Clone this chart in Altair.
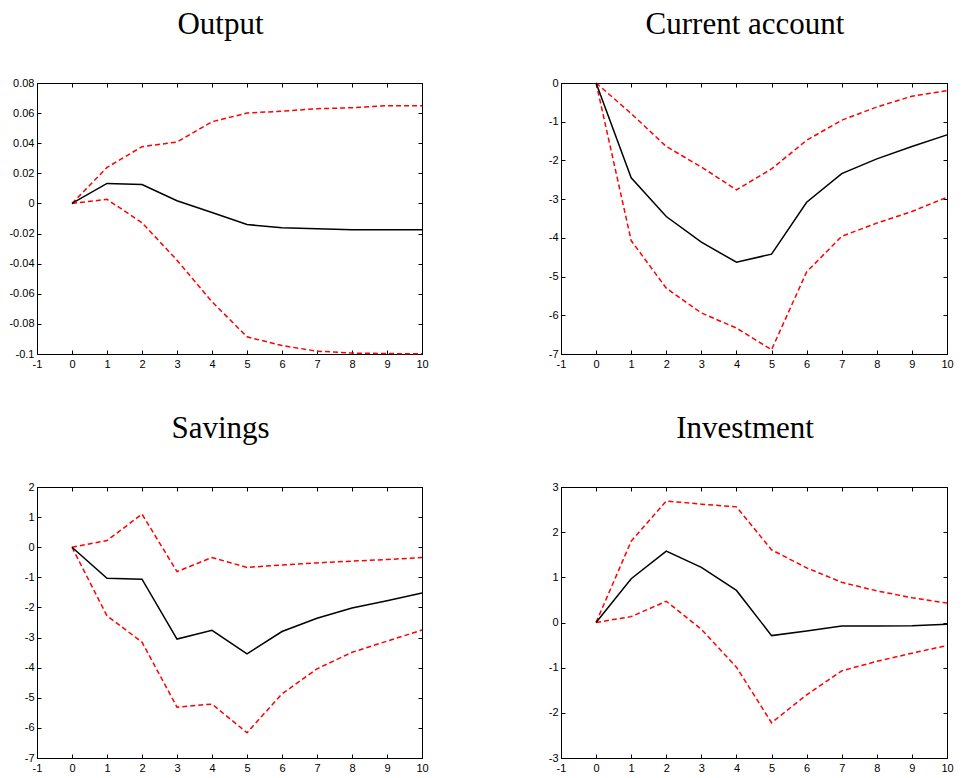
import altair as alt
import pandas as pd

horizon = list(range(11))
x_ticks = list(range(-1, 11))

output_mid = [0, 0.0133, 0.0126, 0.0018, -0.006, -0.014, -0.0162, -0.0168, -0.0175, -0.0175, -0.0175]
output_hi = [0, 0.0239, 0.0377, 0.0408, 0.0543, 0.060, 0.0613, 0.0629, 0.0636, 0.0649, 0.0649]
output_lo = [0, 0.0027, -0.0128, -0.0377, -0.0653, -0.0886, -0.0944, -0.0981, -0.0994, -0.0997, -0.0999]
output_ticks = [-0.1, -0.08, -0.06, -0.04, -0.02, 0, 0.02, 0.04, 0.06, 0.08]

ca_mid = [0, -2.45, -3.45, -4.11, -4.63, -4.42, -3.08, -2.34, -1.96, -1.64, -1.34]
ca_hi = [0, -0.79, -1.64, -2.17, -2.76, -2.22, -1.48, -0.96, -0.62, -0.34, -0.2]
ca_lo = [0, -4.07, -5.3, -5.94, -6.33, -6.89, -4.88, -3.96, -3.62, -3.32, -2.95]
ca_ticks = [-7, -6, -5, -4, -3, -2, -1, 0]

sav_mid = [0, -1.03, -1.06, -3.05, -2.76, -3.54, -2.8, -2.36, -2.02, -1.78, -1.52]
sav_hi = [0, 0.22, 1.1, -0.81, -0.34, -0.67, -0.59, -0.52, -0.46, -0.41, -0.34]
sav_lo = [0, -2.28, -3.15, -5.31, -5.21, -6.16, -4.87, -4.04, -3.49, -3.12, -2.75]
sav_ticks = [-7, -6, -5, -4, -3, -2, -1, 0, 1, 2]

inv_mid = [0, 0.97, 1.58, 1.22, 0.71, -0.29, -0.19, -0.08, -0.08, -0.07, -0.04]
inv_hi = [0, 1.8, 2.69, 2.62, 2.56, 1.61, 1.21, 0.89, 0.7, 0.55, 0.43]
inv_lo = [0, 0.13, 0.47, -0.15, -0.99, -2.22, -1.6, -1.07, -0.86, -0.68, -0.51]
inv_ticks = [-3, -2, -1, 0, 1, 2, 3]

LABEL_FONT = "Liberation Sans"
H = 271


def panel(title, mid, lo, hi, yticks, W):
    df_mid = pd.DataFrame({"h": horizon, "v": mid})
    df_band = pd.DataFrame({
        "h": horizon + horizon,
        "v": lo + hi,
        "s": ["lower"] * len(horizon) + ["upper"] * len(horizon),
    })
    xs = alt.Scale(domain=[-1, 10], nice=False, zero=False)
    ys = alt.Scale(domain=[min(yticks), max(yticks)], nice=False, zero=False)

    def tick_axis(orient, offset, vals):
        return alt.Axis(orient=orient, offset=offset, values=vals, labels=False,
                        domain=False, ticks=True, tickSize=4, tickColor="black",
                        tickWidth=1, grid=False, title=None, minExtent=0, maxExtent=0)

    main_x = alt.Axis(orient="bottom", values=x_ticks, ticks=False, domain=True,
                      domainColor="black", domainWidth=1, grid=False, title=None,
                      labelFont=LABEL_FONT, labelFontSize=11, labelColor="black",
                      labelPadding=4, labelFlush=False, labelOverlap=False,
                      labelExpr="datum.value + ''")
    main_y = alt.Axis(orient="left", values=yticks, ticks=False, domain=True,
                      domainColor="black", domainWidth=1, grid=False, title=None,
                      labelFont=LABEL_FONT, labelFontSize=11, labelColor="black",
                      labelPadding=3, labelFlush=False, labelOverlap=False,
                      minExtent=29, maxExtent=29,
                      labelExpr="datum.value + ''")

    band = alt.Chart(df_band).mark_line(color="#ff0000", strokeDash=[5, 3], strokeWidth=1.5).encode(
        x=alt.X("h:Q", scale=xs, axis=tick_axis("top", -H, x_ticks)),
        y=alt.Y("v:Q", scale=ys, axis=tick_axis("right", -W, yticks)),
        detail="s:N",
    )
    line = alt.Chart(df_mid).mark_line(color="black", strokeWidth=1.5).encode(
        x=alt.X("h:Q", scale=xs, axis=main_x),
        y=alt.Y("v:Q", scale=ys, axis=main_y),
    )
    ghost = alt.Chart(df_mid).mark_line(opacity=0).encode(
        x=alt.X("h:Q", scale=xs, axis=tick_axis("bottom", -H, x_ticks)),
        y=alt.Y("v:Q", scale=ys, axis=tick_axis("left", -W, yticks)),
    )
    return alt.layer(band, line, ghost).resolve_axis(x="independent", y="independent").properties(
        width=W, height=H,
        title=alt.TitleParams(title, font="Liberation Serif", fontSize=31, fontWeight="normal",
                              baseline="alphabetic", anchor="middle", frame="group",
                              offset=12, dx=-9, color="black"),
    )


chart = alt.concat(
    panel("Output", output_mid, output_lo, output_hi, output_ticks, 385),
    panel("Current account", ca_mid, ca_lo, ca_hi, ca_ticks, 386),
    panel("Savings", sav_mid, sav_lo, sav_hi, sav_ticks, 385),
    panel("Investment", inv_mid, inv_lo, inv_hi, inv_ticks, 386),
    columns=2,
    spacing={"row": 42, "column": 102},
).configure_view(stroke="black", strokeWidth=1).properties(
    padding={"left": -1, "top": 0, "right": 0, "bottom": 0},
    background="white",
)

chart.save("out.html", embed_options={"renderer": "svg", "actions": False})
